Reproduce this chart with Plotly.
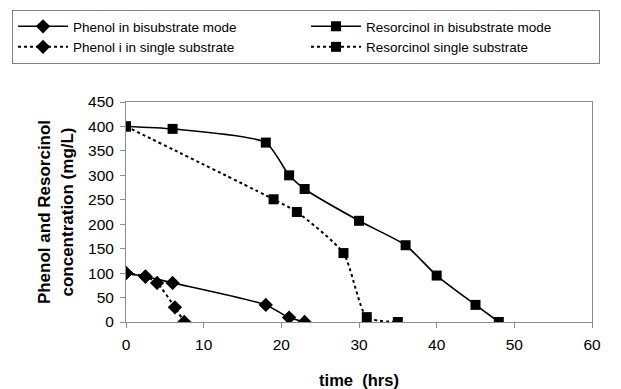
import plotly.graph_objects as go

# Data
phenol_bi_t = [0, 2.5, 6, 18, 21, 23]
phenol_bi_c = [100, 93, 80, 35, 9, 0]

res_bi_t = [0, 6, 18, 21, 23, 30, 36, 40, 45, 48]
res_bi_c = [400, 395, 367, 300, 272, 207, 157, 95, 35, 0]

phenol_single_t = [0, 2.5, 4, 6.3, 7.5]
phenol_single_c = [100, 93, 80, 30, 0]

res_single_t = [0, 19, 22, 28, 31, 35]
res_single_c = [400, 251, 225, 141, 10, 0]

x_ticks = [0, 10, 20, 30, 40, 50, 60]
y_ticks = [0, 50, 100, 150, 200, 250, 300, 350, 400, 450]

FONT = "Liberation Sans, Arial, sans-serif"
AXC = "#8c8c8c"

W, H = 621, 389
ML, MR, MT, MB = 126, 29, 102, 67
PW, PH = W - ML - MR, H - MT - MB

fig = go.Figure()
fig.add_trace(go.Scatter(x=phenol_bi_t, y=phenol_bi_c, mode="lines+markers",
                         name="Phenol in bisubstrate mode",
                         line=dict(color="black", width=1.6, shape="spline", smoothing=0.6),
                         marker=dict(symbol="diamond", size=11, color="black")))
fig.add_trace(go.Scatter(x=res_bi_t, y=res_bi_c, mode="lines+markers",
                         name="Resorcinol in bisubstrate mode",
                         line=dict(color="black", width=1.6, shape="spline", smoothing=0.6),
                         marker=dict(symbol="square", size=10, color="black")))
fig.add_trace(go.Scatter(x=phenol_single_t, y=phenol_single_c, mode="lines+markers",
                         name="Phenol i in single substrate",
                         line=dict(color="black", width=2, dash="dot", shape="spline", smoothing=0.6),
                         marker=dict(symbol="diamond", size=11, color="black")))
fig.add_trace(go.Scatter(x=res_single_t, y=res_single_c, mode="lines+markers",
                         name="Resorcinol single substrate",
                         line=dict(color="black", width=2, dash="dot", shape="spline", smoothing=0.6),
                         marker=dict(symbol="square", size=10, color="black")))

fig.update_layout(
    width=W, height=H,
    margin=dict(l=ML, r=MR, t=MT, b=MB, autoexpand=False),
    paper_bgcolor="white", plot_bgcolor="white",
    font=dict(family=FONT, color="black", size=15),
    showlegend=True,
    legend=dict(
        orientation="h",
        xref="paper", yref="paper",
        x=(12 - ML) / PW, y=1 + (MT - 10) / PH, xanchor="left", yanchor="top",
        entrywidth=228, entrywidthmode="pixels",
        itemwidth=50,
        bordercolor="#808080", borderwidth=1,
        font=dict(family=FONT, size=13.5, color="black"),
        traceorder="normal",
    ),
    xaxis=dict(
        range=[0, 60], tickvals=x_ticks, ticktext=[str(v) for v in x_ticks],
        showgrid=False, zeroline=False, automargin=False,
        showline=True, linecolor=AXC, linewidth=1, mirror=True,
        ticks="outside", tickcolor=AXC, ticklen=5, ticklabelstandoff=3,
        tickfont=dict(size=15.5),
        title=dict(text="<b>time  (hrs)</b>", font=dict(size=16.5), standoff=23),
    ),
    yaxis=dict(
        range=[0, 450], tickvals=y_ticks, ticktext=[str(v) for v in y_ticks],
        showgrid=False, zeroline=False, automargin=False,
        showline=True, linecolor=AXC, linewidth=1, mirror=True,
        ticks="outside", tickcolor=AXC, ticklen=5, ticklabelstandoff=3,
        tickfont=dict(size=15.5),
        title=dict(text="<b>Phenol and Resorcinol<br>concentration (mg/L)</b>", font=dict(size=17), standoff=10),
    ),
)

fig.write_html("out.html")
